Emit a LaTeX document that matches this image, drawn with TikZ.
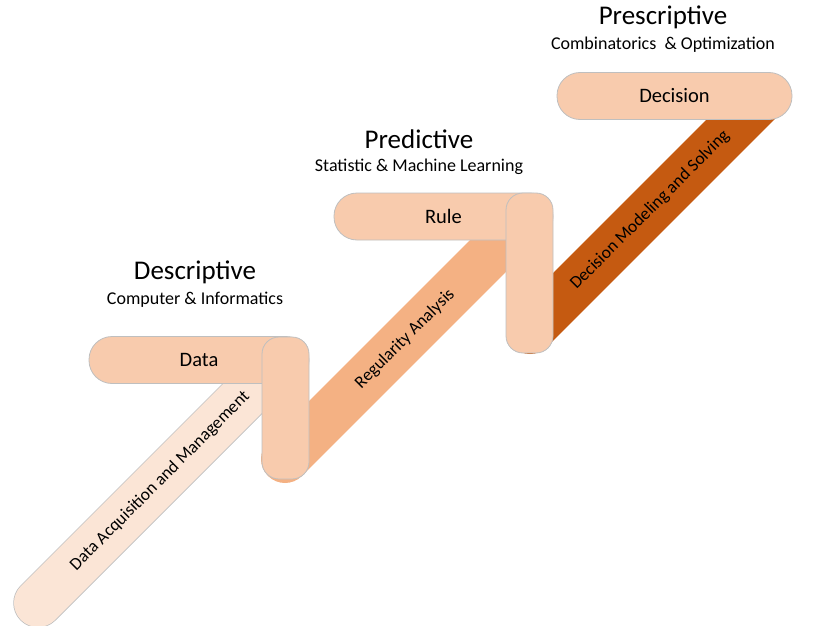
\documentclass[tikz,border=0pt]{standalone}
\usepackage{fontspec}
\setmainfont{Carlito}
\usepackage{xcolor}
\usepackage{tikz}
\usetikzlibrary{positioning}

\definecolor{bandlight}{HTML}{FBE5D6}
\definecolor{bandmid}{HTML}{F4B183}
\definecolor{banddark}{HTML}{C55A11}
\definecolor{boxfill}{HTML}{F8CBAD}
\definecolor{boxline}{HTML}{BFBFBF}

\begin{document}
\begin{tikzpicture}[x=1pt, y=-1pt,
    level/.style={font=\fontsize{27}{32}\selectfont, inner sep=0pt},
    field/.style={font=\fontsize{18}{22}\selectfont, inner sep=0pt},
    stepbox/.style={draw=boxline, fill=boxfill, line width=0.8pt, rounded corners=23pt, minimum height=47pt, inner sep=0pt, font=\fontsize{20.5}{24}\selectfont},
    riser/.style={draw=boxline, fill=boxfill, line width=0.8pt, rounded corners=17pt, minimum width=47pt, inner sep=0pt},
    band/.style={line width=48pt, line cap=round},
    bandtext/.style={rotate=45, font=\fontsize{17.5}{21}\selectfont}]

    \useasboundingbox (0,0) rectangle (820,626);

    % band end points
    \coordinate (b1s) at (38,603);
    \coordinate (b1e) at (280,361);
    \coordinate (b2s) at (285,459);
    \coordinate (b2e) at (515,229);
    \coordinate (b3s) at (530,330);
    \coordinate (b3e) at (762,98);

    % Descriptive step
    \draw[band, line width=49.5pt, boxline] (b1s) -- (b1e);
    \draw[band, bandlight] (b1s) -- (b1e);
    \node[stepbox, minimum width=220pt] (data) at (199,360) {Data};
    \draw[band, bandmid] (b2s) -- (b2e);
    \node[riser, minimum height=142pt] (dataRiser) at (285.5,408) {};
    \node[bandtext] (acq) at (160,481) {Data Acquisition and Management};

    % Predictive step
    \draw[band, banddark] (b3s) -- (b3e);
    \node[stepbox, minimum width=219pt] (rule) at (443.5,216.5) {Rule};
    \node[riser, minimum height=160pt] (ruleRiser) at (529.5,273) {};
    \node[bandtext] (reg) at (405,339) {Regularity Analysis};

    % Prescriptive step
    \node[stepbox, minimum width=235pt] (decision) at (674.5,96) {Decision};
    \node[bandtext] (dms) at (650,210) {Decision Modeling and Solving};

    % Titles
    \node[level] (descr) at (195,272) {Descriptive};
    \node[field] (descrSub) at ([yshift=-27.5pt]descr.center) {Computer \& Informatics};
    \node[level] (pred) at (419,139) {Predictive};
    \node[field] (predSub) at ([yshift=-28pt]pred.center) {Statistic \& Machine Learning};
    \node[level] (presc) at (663,17) {Prescriptive};
    \node[field] (prescSub) at ([yshift=-27.5pt]presc.center) {Combinatorics ~\& Optimization};
\end{tikzpicture}
\end{document}
